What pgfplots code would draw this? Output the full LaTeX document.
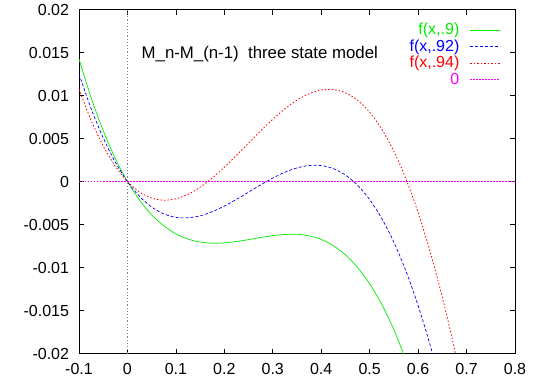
\documentclass[border=0pt]{standalone}
\usepackage{fontspec}
\setmainfont{Liberation Sans}
\usepackage{pgfplots}
\pgfplotsset{compat=1.18}

\definecolor{gpgreen}{rgb}{0,0.93,0}
\definecolor{gpblue}{rgb}{0,0,1}
\definecolor{gpred}{rgb}{1,0,0}
\definecolor{gpmag}{rgb}{1,0,1}

\newcommand{\gpfont}{\fontsize{16}{19}\selectfont}

\begin{document}
\begin{tikzpicture}
\useasboundingbox (-79pt,-24.5pt) rectangle (461pt,353.5pt);
\begin{axis}[
    scale only axis,
    width=436pt, height=344pt,
    xmin=-0.1, xmax=0.8, ymin=-0.02, ymax=0.02,
    xtick={-0.1,0,0.1,0.2,0.3,0.4,0.5,0.6,0.7,0.8},
    xticklabels={-0.1,0,0.1,0.2,0.3,0.4,0.5,0.6,0.7,0.8},
    ytick={-0.02,-0.015,-0.01,-0.005,0,0.005,0.01,0.015,0.02},
    yticklabels={-0.02,-0.015,-0.01,-0.005,0,0.005,0.01,0.015,0.02},
    tick align=inside,
    major tick length=5pt,
    tick style={black, line width=0.6pt},
    axis line style={black, line width=0.8pt},
    ticklabel style={font=\gpfont, inner sep=1pt},
    xticklabel style={yshift=-8.8pt},
    yticklabel style={xshift=-8.8pt},
    legend image code/.code={\draw[#1] (0pt,0pt) -- (30pt,0pt);},
    legend style={at={(rel axis cs:0.968,0.964)}, anchor=north east,
        draw=none, fill=none, font=\gpfont, inner sep=0pt,
        row sep=0pt, column sep=10pt,
        cells={anchor=east},
        nodes={inner sep=0.5pt, text height=12pt, text depth=3.5pt}},
    legend plot pos=right,
]
% zero axis at x = 0
\draw[gray, line width=0.6pt, dash pattern=on 1.2pt off 2pt]
    (axis cs:0,-0.02) -- (axis cs:0,0.02);

\addplot[color=gpgreen, line width=0.7pt, smooth] coordinates {
    (-0.1,0.01425) (-0.075,0.00975) (-0.05,0.00591) (-0.025,0.00267) (0,0)
    (0.025,-0.00216) (0.05,-0.00387) (0.075,-0.00516) (0.1,-0.00608)
    (0.125,-0.00670) (0.15,-0.00704) (0.175,-0.00717) (0.2,-0.00714)
    (0.225,-0.00698) (0.25,-0.00676) (0.275,-0.00651) (0.3,-0.00630)
    (0.325,-0.00616) (0.35,-0.00614) (0.375,-0.00632) (0.4,-0.00674)
    (0.425,-0.00746) (0.45,-0.00853) (0.475,-0.00999) (0.5,-0.01189)
    (0.525,-0.01429) (0.55,-0.01723) (0.575,-0.02076)
};
\addlegendentry[text=gpgreen]{f(x,.9)}

\addplot[color=gpblue, line width=0.7pt, smooth, dash pattern=on 3pt off 2pt] coordinates {
    (-0.1,0.01251) (-0.075,0.00848) (-0.05,0.00507) (-0.025,0.00225) (0,0)
    (0.025,-0.00173) (0.05,-0.00297) (0.075,-0.00377) (0.1,-0.00417)
    (0.125,-0.00422) (0.15,-0.00399) (0.175,-0.00351) (0.2,-0.00286)
    (0.225,-0.00208) (0.25,-0.00124) (0.275,-0.00039) (0.3,0.00040)
    (0.325,0.00108) (0.35,0.00158) (0.375,0.00186) (0.4,0.00185)
    (0.425,0.00150) (0.45,0.00075) (0.475,-0.00043) (0.5,-0.00210)
    (0.525,-0.00430) (0.55,-0.00706) (0.575,-0.01043) (0.6,-0.01442)
    (0.625,-0.01907) (0.65,-0.02439)
};
\addlegendentry[text=gpblue]{f(x,.92)}

\addplot[color=gpred, line width=0.8pt, smooth, dash pattern=on 1.5pt off 2pt] coordinates {
    (-0.1,0.01073) (-0.075,0.00711) (-0.05,0.00413) (-0.025,0.00177) (0,0)
    (0.025,-0.00122) (0.05,-0.00193) (0.075,-0.00218) (0.1,-0.00201)
    (0.125,-0.00149) (0.15,-0.00066) (0.175,0.00041) (0.2,0.00166)
    (0.225,0.00304) (0.25,0.00447) (0.275,0.00589) (0.3,0.00724)
    (0.325,0.00845) (0.35,0.00946) (0.375,0.01021) (0.4,0.01064)
    (0.425,0.01069) (0.45,0.01031) (0.475,0.00945) (0.5,0.00805)
    (0.525,0.00609) (0.55,0.00351) (0.575,0.00029) (0.6,-0.00361)
    (0.625,-0.00819) (0.65,-0.01347) (0.675,-0.01947) (0.7,-0.02617)
};
\addlegendentry[text=gpred]{f(x,.94)}

\addplot[color=gpmag, line width=1pt, dash pattern=on 1.5pt off 1.5pt] coordinates {
    (-0.1,0) (0.8,0)
};
\addlegendentry[text=gpmag]{0}

\node[anchor=base west, font=\fontsize{16.8}{20}\selectfont, inner sep=0pt]
    at (axis cs:0.029,0.01434) {M\_n-M\_(n-1)\ \ three state model};
\end{axis}
\end{tikzpicture}
\end{document}
